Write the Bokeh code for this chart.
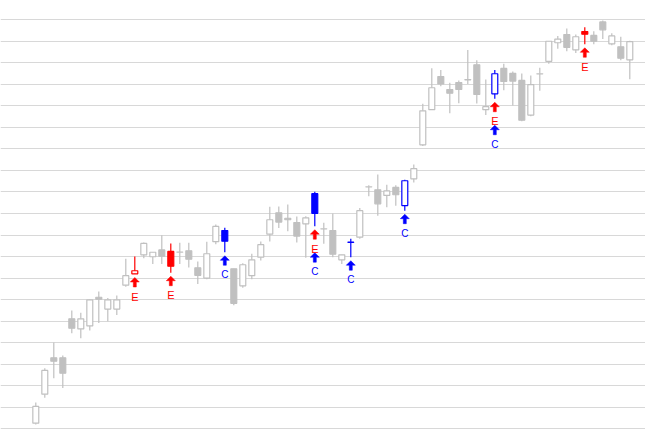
from bokeh.plotting import figure
from bokeh.models import ColumnDataSource, Grid, FixedTicker, Range1d
from bokeh.core.properties import value
from bokeh.embed import file_html
from bokeh.resources import INLINE

# ---- data ----
opens = [12.6, 26.1, 43.0, 43.0, 61.1, 56.4, 57.8, 71.1, 65.6, 65.6,
         76.7, 82.0, 90.8, 89.9, 93.1, 92.4, 92.0, 92.7, 84.8, 80.0,
         96.9, 102.1, 84.3, 76.4, 81.1, 89.7, 100.4, 110.3, 107.8, 105.8,
         105.2, 119.2, 102.8, 102.1, 88.5, 96.6, 99.0, 122.3, 121.0, 118.4,
         122.1, 113.7, 126.1, 141.9, 158.2, 173.6, 167.6, 170.8, 172.1, 179.1,
         158.2, 165.6, 177.4, 175.1, 171.8, 155.7, 174.8, 180.7, 189.3, 193.1,
         186.0, 194.5, 192.7, 199.0, 188.8, 187.4, 181.4]
highs = [22.2, 38.1, 50.1, 44.0, 64.9, 63.9, 70.1, 73.8, 70.7, 71.9,
         89.0, 90.0, 96.5, 92.0, 99.9, 96.1, 96.4, 96.4, 87.7, 96.9,
         104.9, 103.4, 84.3, 86.9, 91.3, 97.0, 113.1, 113.3, 114.2, 108.6,
         108.7, 120.1, 105.7, 110.0, 90.8, 98.3, 112.5, 123.1, 128.1, 123.3,
         123.1, 125.7, 132.8, 161.0, 177.5, 176.6, 170.7, 171.8, 185.9, 181.2,
         172.2, 176.7, 179.5, 175.9, 175.0, 174.1, 177.7, 190.0, 192.5, 195.9,
         193.1, 196.5, 194.7, 199.6, 193.7, 192.1, 190.2]
lows = [12.0, 24.4, 33.5, 28.9, 54.4, 52.1, 55.7, 59.1, 60.0, 62.8,
        76.0, 81.9, 89.2, 86.5, 86.5, 82.5, 86.5, 84.9, 77.2, 79.5,
        95.7, 92.0, 67.4, 75.5, 79.5, 88.2, 97.0, 103.3, 101.8, 96.5,
        89.4, 104.1, 95.9, 89.7, 86.6, 89.7, 98.3, 118.0, 108.9, 112.9,
        113.6, 111.3, 124.4, 141.3, 158.2, 169.1, 156.6, 161.2, 170.2, 161.1,
        155.8, 163.3, 167.3, 160.2, 152.9, 155.2, 167.0, 179.5, 186.5, 185.4,
        184.6, 188.6, 188.6, 191.0, 188.2, 181.2, 172.4]
closes = [20.4, 37.1, 41.4, 35.8, 56.7, 61.1, 69.9, 70.2, 69.9, 69.9,
          81.1, 83.4, 96.1, 92.0, 90.2, 85.5, 92.1, 88.8, 81.3, 91.3,
          104.0, 97.1, 68.3, 86.2, 88.5, 95.5, 107.1, 106.0, 107.1, 99.5,
          108.0, 110.1, 102.9, 91.1, 90.8, 96.7, 111.3, 122.4, 114.5, 120.5,
          118.7, 125.2, 130.8, 157.7, 168.4, 170.2, 165.9, 167.6, 172.2, 165.3,
          159.6, 174.9, 171.3, 171.5, 153.3, 169.9, 174.9, 190.0, 191.0, 187.2,
          192.1, 193.3, 190.0, 195.3, 192.5, 182.1, 189.8]
e_signals = [11, 15, 31, 51, 61]
c_signals = [21, 31, 35, 41, 51]
grid_levels = list(range(10, 201, 10))

GRAY = "#c0c0c0"
RED = "#ff0000"
BLUE = "#0000ff"

n = len(opens)
xs = list(range(n))
colors = []
fills = []
for i in range(n):
    col = BLUE if i in c_signals else (RED if i in e_signals else GRAY)
    colors.append(col)
    fills.append("#ffffff" if closes[i] > opens[i] else col)

src = ColumnDataSource(dict(
    x=xs, o=opens, h=highs, l=lows, c=closes,
    top=[max(a, b) for a, b in zip(opens, closes)],
    bot=[min(a, b) for a, b in zip(opens, closes)],
    color=colors, fill=fills))

W, H = 645, 439
x0 = -3.922
x1 = x0 + W / 9.0
y0 = 5.03
y1 = y0 + H / 2.153
PXX = (x1 - x0) / W
PXY = (y1 - y0) / H

p = figure(width=W, height=H, output_backend="svg", toolbar_location=None,
           x_range=Range1d(x0, x1), y_range=Range1d(y0, y1),
           x_axis_location=None, y_axis_location=None, min_border=0,
           outline_line_color=None, background_fill_color="white")
p.grid.visible = False
p.add_layout(Grid(dimension=1, ticker=FixedTicker(ticks=grid_levels),
                  grid_line_color="#d8d8d8", grid_line_width=1))

p.segment(x0="x", y0="h", x1="x", y1="l", source=src, line_color="color", line_width=1.2)
p.vbar(x="x", width=0.66, top="top", bottom="bot", source=src,
       fill_color="fill", line_color="color", line_width=1.2)

# arrows + letters
arrow_shape = [(0, 0), (4.5, 4.5), (1.5, 4.5), (1.5, 9.5), (-1.5, 9.5), (-1.5, 4.5), (-4.5, 4.5)]
axs, ays, acol = [], [], []
tx, ty, tt, tcol, tsize = [], [], [], [], []
for i in sorted(set(e_signals) | set(c_signals)):
    top = lows[i] - 3.5 * PXY
    marks = []
    if i in e_signals:
        marks.append(("E", RED, "11px", 19.2))
    if i in c_signals:
        marks.append(("C", BLUE, "10px", 18.8))
    for k, (letter, col, fs, base) in enumerate(marks):
        t = top - k * 23 * PXY
        axs.append([i + dx * PXX for dx, dy in arrow_shape])
        ays.append([t - dy * PXY for dx, dy in arrow_shape])
        acol.append(col)
        tx.append(i)
        ty.append(t - base * PXY)
        tt.append(letter)
        tcol.append(col)
        tsize.append(fs)

p.patches(xs="xs", ys="ys", source=ColumnDataSource(dict(xs=axs, ys=ays, color=acol)),
          fill_color="color", line_color="color", line_width=0.5)
p.text(x="x", y="y", text="t", source=ColumnDataSource(dict(x=tx, y=ty, t=tt, color=tcol, size=tsize)),
       text_color="color", text_font_size="size", text_font=value("Liberation Sans"),
       text_align="center", text_baseline="alphabetic")

open("out.html", "w").write(file_html(p, INLINE))
